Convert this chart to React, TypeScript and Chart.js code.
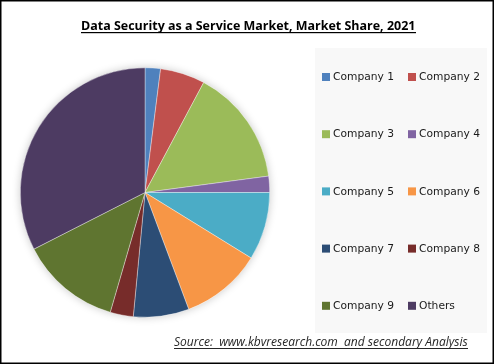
import React, { useEffect, useRef } from "react";
import { Chart, registerables } from "chart.js";

Chart.register(...registerables);

const TITLE = "Data Security as a Service Market, Market Share, 2021";
const SOURCE = "Source:  www.kbvresearch.com  and secondary Analysis";
const labels = [
  "Company 1", "Company 2", "Company 3", "Company 4", "Company 5",
  "Company 6", "Company 7", "Company 8", "Company 9", "Others",
];
const shares = [2.0, 5.8, 15.1, 2.1, 8.8, 10.5, 7.2, 3.0, 13.0, 32.5];
const colors = [
  "#4F81BD", "#C0504D", "#9BBB59", "#8064A2", "#4BACC6",
  "#F79646", "#2C4D75", "#772C2A", "#5F7530", "#4D3B62",
];

function fitFont(ctx: CanvasRenderingContext2D, text: string, style: string, family: string, width: number) {
  let size = 14;
  ctx.font = `${style} ${size}px ${family}`;
  const w = ctx.measureText(text).width;
  size = (size * width) / w;
  ctx.font = `${style} ${size}px ${family}`;
  return size;
}

const decorPlugin = {
  id: "decor",
  beforeDraw(chart: any) {
    const ctx: CanvasRenderingContext2D = chart.ctx;
    const W = chart.width, H = chart.height;
    ctx.save();
    ctx.fillStyle = "#ffffff";
    ctx.fillRect(0, 0, W, H);
    ctx.fillStyle = "#f8f8f8";
    ctx.fillRect(315, 48, 172, 285);
    ctx.restore();
  },
  beforeDatasetsDraw(chart: any) {
    const ctx = chart.ctx;
    ctx.save();
    ctx.shadowColor = "rgba(0,0,0,0.22)";
    ctx.shadowBlur = 9;
    const meta = chart.getDatasetMeta(0);
    const arc = meta.data[0];
    if (arc) {
      ctx.fillStyle = "#ffffff";
      ctx.beginPath();
      ctx.arc(arc.x, arc.y, arc.outerRadius, 0, Math.PI * 2);
      ctx.fill();
    }
    ctx.restore();
  },
  afterDraw(chart: any) {
    const ctx: CanvasRenderingContext2D = chart.ctx;
    const W = chart.width, H = chart.height;
    ctx.save();
    ctx.fillStyle = "#000000";
    ctx.textBaseline = "alphabetic";
    ctx.textAlign = "left";
    fitFont(ctx, TITLE, "bold", "'Open Sans', 'Liberation Sans', sans-serif", 335);
    ctx.fillText(TITLE, 81, 30);
    ctx.fillRect(81, 32, 335, 1.2);
    ctx.fillStyle = "#262626";
    fitFont(ctx, SOURCE, "italic", "'Open Sans', 'Liberation Sans', sans-serif", 294);
    ctx.fillText(SOURCE, 174, 346);
    ctx.fillRect(174, 348, 294, 1);
    const ds = chart.data.datasets[0];
    ctx.font = "10.7px 'DejaVu Sans', sans-serif";
    ctx.textBaseline = "middle";
    const lbls = chart.data.labels as string[];
    lbls.forEach((lb, i) => {
      const col = i % 2;
      const row = Math.floor(i / 2);
      const x = col === 0 ? 322 : 408;
      const y = 77 + row * 57.2;
      ctx.fillStyle = ds.backgroundColor[i];
      ctx.fillRect(x, y - 4, 8, 8);
      ctx.fillStyle = "#1a1a1a";
      ctx.fillText(lb, x + 11, y + 0.5);
    });
    ctx.strokeStyle = "#000000";
    ctx.lineWidth = 1.5;
    ctx.strokeRect(0.75, 0.75, W - 1.5, H - 1.5);
    ctx.restore();
  },
};

export default function App() {
  const ref = useRef<HTMLCanvasElement | null>(null);
  useEffect(() => {
    document.body.style.margin = "0";
    if (!ref.current) return;
    const chart = new Chart(ref.current, {
      type: "pie",
      data: {
        labels,
        datasets: [
          {
            data: shares,
            backgroundColor: colors,
            borderColor: "rgba(255,255,255,0.6)",
            borderWidth: 0.6,
          },
        ],
      },
      options: {
        animation: false,
        responsive: false,
        maintainAspectRatio: false,
        devicePixelRatio: 1,
        layout: { padding: { left: 20, right: 224, top: 67, bottom: 46 } },
        plugins: {
          legend: { display: false },
          tooltip: { enabled: false },
          title: { display: false },
        },
      },
      plugins: [decorPlugin],
    });
    return () => chart.destroy();
  }, []);
  return (
    <div style={{ width: 494, height: 364 }}>
      <canvas ref={ref} width={494} height={364} style={{ width: 494, height: 364, display: "block" }} />
    </div>
  );
}
